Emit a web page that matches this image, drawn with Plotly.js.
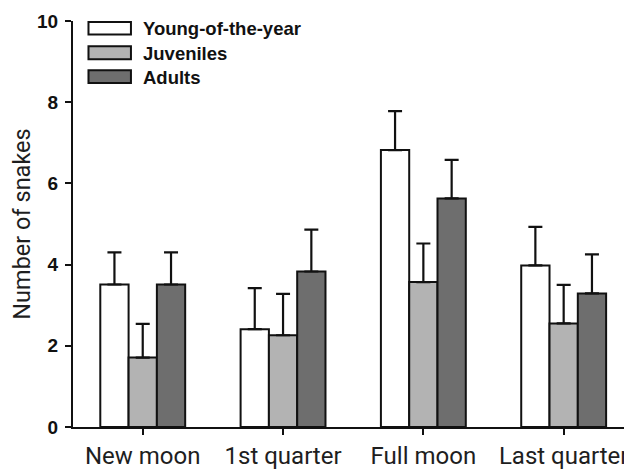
<!DOCTYPE html>
<html>
<head>
<meta charset="utf-8">
<script src="https://cdn.plot.ly/plotly-3.0.1.min.js"></script>
<style>html,body{margin:0;padding:0;background:#fff;}#chart{width:624px;height:469px;}</style>
</head>
<body>
<div id="chart"></div>
<script>
var categories = ["New moon", "1st quarter", "Full moon", "Last quarter"];
var seriesNames = ["Young-of-the-year", "Juveniles", "Adults"];
var youngValues = [3.51, 2.41, 6.82, 3.98];
var youngErrors = [0.79, 1.01, 0.96, 0.95];
var juvenileValues = [1.71, 2.26, 3.57, 2.55];
var juvenileErrors = [0.83, 1.02, 0.95, 0.95];
var adultValues = [3.51, 3.83, 5.63, 3.29];
var adultErrors = [0.79, 1.03, 0.95, 0.96];
var yTicks = [0, 2, 4, 6, 8, 10];

var colors = ["#ffffff", "#b3b3b3", "#6e6e6e"];
var values = [youngValues, juvenileValues, adultValues];
var errors = [youngErrors, juvenileErrors, adultErrors];

var W = 624, H = 469;
var mL = 72.5, mR = 0, mT = 20.7, mB = 42.3;
var pw = W - mL - mR, ph = H - mT - mB;

var traces = seriesNames.map(function (name, i) {
  return {
    type: "bar",
    name: name,
    x: categories,
    y: values[i],
    marker: { color: colors[i], line: { color: "#111", width: 2 } },
    error_y: {
      type: "data",
      symmetric: false,
      array: errors[i],
      arrayminus: errors[i].map(function () { return 0; }),
      color: "#111",
      thickness: 2.2,
      width: 7
    },
    showlegend: false,
    hoverinfo: "skip"
  };
});

// custom legend (wide swatches like the reference)
var shapes = [], annotations = [];
var legendRows = [[21.7, 34.3], [46, 59], [70, 82.7]];
function px2x(p) { return (p - mL) / pw; }
function py2y(p) { return (H - mB - p) / ph; }
seriesNames.forEach(function (name, i) {
  var r = legendRows[i];
  shapes.push({
    type: "rect", xref: "paper", yref: "paper",
    x0: px2x(88), x1: px2x(130.5), y0: py2y(r[1]), y1: py2y(r[0]),
    fillcolor: colors[i], line: { color: "#111", width: 2 }
  });
  annotations.push({
    xref: "paper", yref: "paper",
    x: px2x(141), y: py2y((r[0] + r[1]) / 2 + 0.5),
    xanchor: "left", yanchor: "middle",
    text: "<b>" + name + "</b>", showarrow: false,
    font: { family: "Liberation Sans, Arial, sans-serif", size: 18.5, color: "#111" }
  });
});

var layout = {
  width: W, height: H,
  margin: { l: mL, r: mR, t: mT, b: mB, pad: 0 },
  paper_bgcolor: "#fff", plot_bgcolor: "#fff",
  barmode: "group", bargap: 0.395, bargroupgap: 0,
  showlegend: false,
  xaxis: {
    type: "category",
    range: [-0.497, 3.43],
    showline: true, linecolor: "#111", linewidth: 2,
    ticks: "outside", ticklen: 6, tickwidth: 2, tickcolor: "#111",
    showgrid: false, zeroline: false,
    tickfont: { family: "Roboto, sans-serif", size: 24, color: "#1e1e1e" },
    automargin: false, fixedrange: true
  },
  yaxis: {
    range: [0, 10],
    tickvals: yTicks,
    ticktext: yTicks.map(function (v) { return "<b>" + v + "</b>"; }),
    showline: true, linecolor: "#111", linewidth: 2,
    ticks: "outside", ticklen: 6, tickwidth: 2, tickcolor: "#111",
    ticklabelstandoff: 3,
    showgrid: false, zeroline: false,
    tickfont: { family: "Liberation Sans, Arial, sans-serif", size: 19, color: "#111" },
    title: { text: "Number of snakes", standoff: 0,
      font: { family: "Roboto, sans-serif", size: 23.5, color: "#1e1e1e" } },
    automargin: false, fixedrange: true
  },
  shapes: shapes,
  annotations: annotations
};

Plotly.newPlot("chart", traces, layout, { displayModeBar: false, staticPlot: true });
</script>
</body>
</html>
